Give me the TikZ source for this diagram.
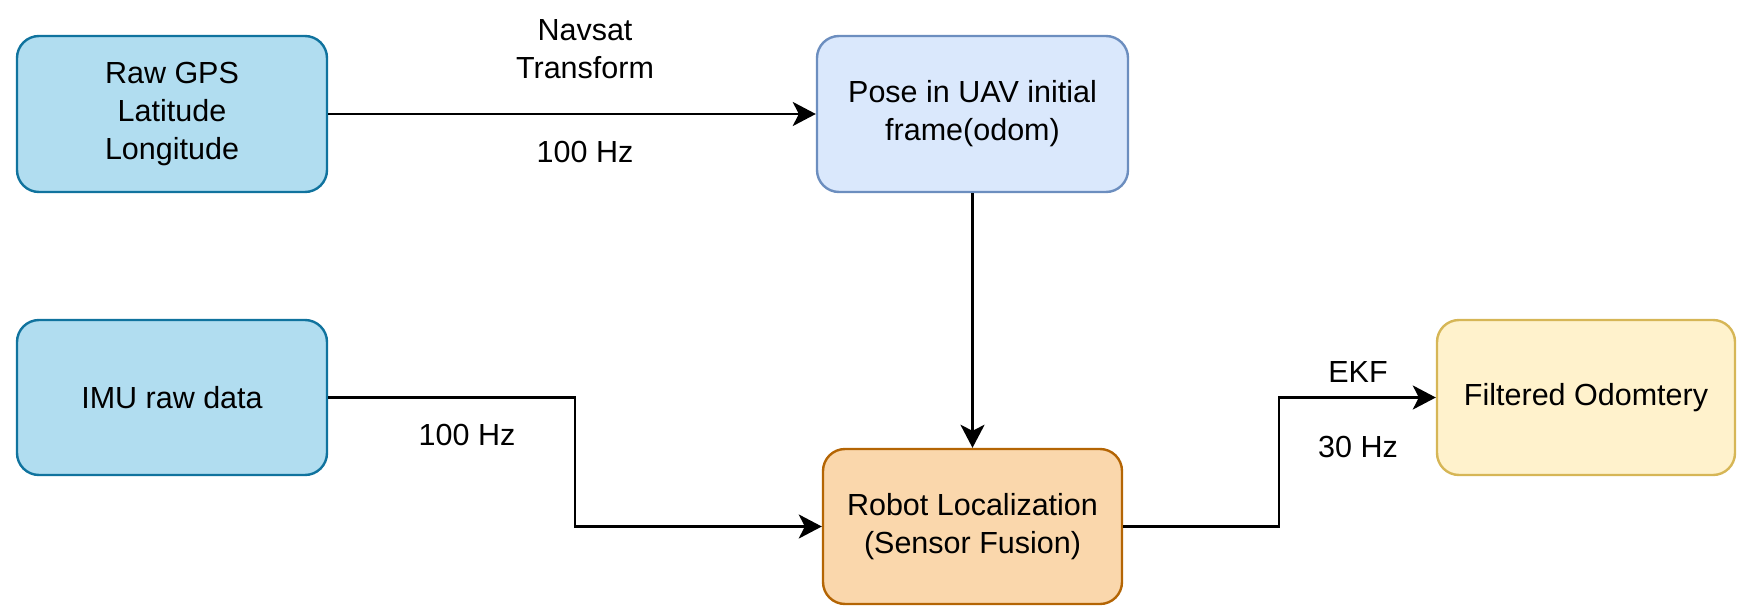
\documentclass[tikz,border=0pt]{standalone}
\usepackage{fontspec}
\setmainfont{Liberation Sans}
\usetikzlibrary{arrows.meta}
\definecolor{gpsfill}{HTML}{B1DDF0}
\definecolor{gpsdraw}{HTML}{10739E}
\definecolor{posefill}{HTML}{DAE8FC}
\definecolor{posedraw}{HTML}{6C8EBF}
\definecolor{robfill}{HTML}{FAD7AC}
\definecolor{robdraw}{HTML}{B46504}
\definecolor{filtfill}{HTML}{FFF2CC}
\definecolor{filtdraw}{HTML}{D6B656}
\tikzset{
  box/.style={rectangle, rounded corners=22pt, line width=2.4pt, inner sep=0pt,
    align=center, font=\fontsize{30.5}{38}\selectfont},
  lbl/.style={align=center, font=\fontsize{30.5}{38}\selectfont, inner sep=0pt},
  conn/.style={line width=2.6pt, draw=black, -{Stealth[length=23pt, width=24pt, inset=6pt]}}
}
\begin{document}
\begin{tikzpicture}[x=1pt, y=-1pt]
\useasboundingbox (0,0) rectangle (1744,615);
\node[box, fill=gpsfill, draw=gpsdraw, minimum width=310pt, minimum height=156pt] (gps) at (172,114) {Raw GPS\\ Latitude\\ Longitude};
\node[box, fill=posefill, draw=posedraw, minimum width=311pt, minimum height=156pt] (pose) at (972.5,114) {Pose in UAV initial\\ frame(odom)};
\node[box, fill=gpsfill, draw=gpsdraw, minimum width=310pt, minimum height=155pt] (imu) at (172,397.5) {IMU raw data};
\node[box, fill=robfill, draw=robdraw, minimum width=299pt, minimum height=155pt] (robot) at (972.5,526.5) {Robot Localization\\ (Sensor Fusion)};
\node[box, fill=filtfill, draw=filtdraw, minimum width=298pt, minimum height=155pt] (filt) at (1586,397.5) {Filtered Odomtery};
\coordinate (c1) at (575,397.5);
\coordinate (c2) at (1279,526.5);
\draw[conn] (gps.east) -- (pose.west);
\draw[conn] (pose.south) -- (robot.north);
\draw[conn] (imu.east) -- (c1) |- (robot.west);
\draw[conn] (robot.east) -- (c2) |- (filt.west);
\node[lbl] (navsat) at (585,49) {Navsat\\ Transform};
\node[lbl] (hz1) at (585,152) {100 Hz};
\node[lbl] (hz2) at (467,435) {100 Hz};
\node[lbl] (ekf) at (1358,372) {EKF};
\node[lbl] (hz3) at (1358,447) {30 Hz};
\end{tikzpicture}
\end{document}
